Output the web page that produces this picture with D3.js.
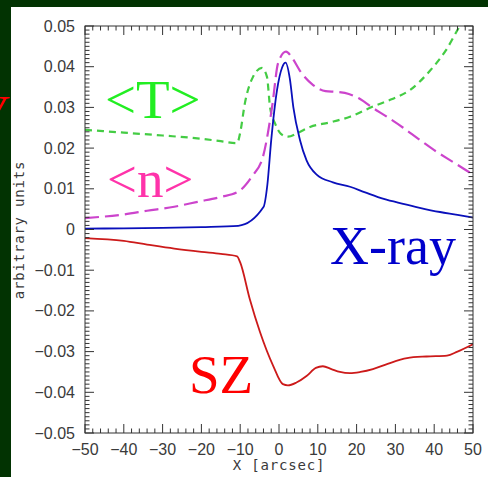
<!DOCTYPE html>
<html><head><meta charset="utf-8">
<script src="https://cdn.jsdelivr.net/npm/d3@7"></script>
<style>html,body{margin:0;padding:0;background:#023302;}svg{display:block;}</style>
</head><body>
<svg id="c" width="488" height="477"></svg>
<script>
// ---- data ----
const xTicks = [-50,-40,-30,-20,-10,0,10,20,30,40,50];
const yTicks = [-0.05,-0.04,-0.03,-0.02,-0.01,0,0.01,0.02,0.03,0.04,0.05];
const xrayX = [-50,-40,-30,-20,-10.5,-4,-3,-2,-0.5,0.8,1.7,2.8,3.7,5.4,7.1,9.7,13.9,18.3,22,27,32,36,41.5,46,50];
const xrayY = [0.0002,0.0003,0.0004,0.0006,0.0009,0.0055,0.011,0.022,0.0343,0.0398,0.041,0.037,0.030,0.022,0.017,0.0135,0.0116,0.0105,0.0092,0.0075,0.0063,0.0054,0.0043,0.0036,0.0029];
const denX = [-50,-40,-34,-27,-21,-15,-10.5,-7,-4.1,-1.8,-0.2,1.8,3.5,5.4,8.8,12,15,18,21,24,27.8,32,36,40,45,50];
const denY = [0.0028,0.0037,0.0046,0.0056,0.0068,0.0080,0.0093,0.013,0.018,0.030,0.041,0.0437,0.042,0.039,0.0355,0.034,0.0338,0.0333,0.032,0.030,0.0277,0.025,0.0222,0.0195,0.0165,0.0135];
const tempX = [-50,-40,-30,-20,-15,-10.8,-10,-8.8,-6.7,-4.4,-3.1,-2.3,-1,0.5,2.3,5,8,13,18.3,24.2,29,33.8,38.9,43,46.6,50];
const tempY = [0.0245,0.0238,0.0231,0.0223,0.0217,0.0212,0.0238,0.031,0.0375,0.0397,0.0375,0.030,0.026,0.0235,0.0228,0.0238,0.0252,0.0263,0.0277,0.0302,0.032,0.0343,0.039,0.044,0.050,0.055];
const szX = [-50,-40,-34,-27,-20,-15,-10.8,-10,-7.5,-4.9,-1.5,1,2.3,4.5,7.1,9.5,11.3,13.5,15.7,18.3,21,24.2,28,33,38,43.3,46,50];
const szY = [-0.0021,-0.0028,-0.0037,-0.0047,-0.0055,-0.006,-0.0066,-0.0081,-0.0172,-0.0252,-0.0335,-0.038,-0.0383,-0.0376,-0.036,-0.034,-0.0336,-0.0343,-0.035,-0.0353,-0.035,-0.0343,-0.033,-0.0316,-0.0312,-0.031,-0.030,-0.0282];
const labels = ["<T>", "<n>", "X-ray", "SZ"];

// ---- layout ----
const svg = d3.select("#c");
const L = 85, R = 473, T = 26, B = 433;
svg.append("rect").attr("x",0).attr("y",0).attr("width",488).attr("height",477).attr("fill","#023302");
svg.append("rect").attr("x",11).attr("y",7).attr("width",477).attr("height",470).attr("fill","#ffffff");
// partially visible red letter on the left edge (cut off in the reference too)
svg.append("text").attr("x",5).attr("y",130).attr("text-anchor","end")
  .attr("font-family","Liberation Serif").attr("font-style","italic").attr("font-size",50)
  .attr("fill","#ff0000").text("V");

const x = d3.scaleLinear().domain([-50,50]).range([L,R]);
const y = d3.scaleLinear().domain([-0.05,0.05]).range([B,T]);

svg.append("defs").append("clipPath").attr("id","clip")
  .append("rect").attr("x",L).attr("y",T).attr("width",R-L).attr("height",B-T);

const g = svg.append("g").attr("clip-path","url(#clip)");
const line = d3.line().x(d=>x(d[0])).y(d=>y(d[1])).curve(d3.curveMonotoneX);
function series(xs, ys){ return xs.map((v,i)=>[v, ys[i]]); }

g.append("path").datum(series(tempX,tempY)).attr("d",line).attr("fill","none")
  .attr("stroke","#44cc44").attr("stroke-width",2.2).attr("stroke-dasharray","7,5");
g.append("path").datum(series(denX,denY)).attr("d",line).attr("fill","none")
  .attr("stroke","#cc44cc").attr("stroke-width",2.2).attr("stroke-dasharray","14,6");
g.append("path").datum(series(szX,szY)).attr("d",line).attr("fill","none")
  .attr("stroke","#cc1a1a").attr("stroke-width",1.8);
g.append("path").datum(series(xrayX,xrayY)).attr("d",line).attr("fill","none")
  .attr("stroke","#0a10bb").attr("stroke-width",1.8);

// ---- axes: frame with inward ticks on all sides ----
const ax = svg.append("g").attr("stroke","#333").attr("stroke-width",1);
ax.append("rect").attr("x",L).attr("y",T).attr("width",R-L).attr("height",B-T).attr("fill","none");
const xMinor = d3.range(-50,50.001,2);
const yMinor = d3.range(-50,50.001,1).map(v=>v/1000);
const MJ = 9, MN = 4.5;
xMinor.forEach(v=>{
  const major = Math.abs(v%10) < 1e-9;
  const len = major?MJ:MN, px = x(v);
  ax.append("line").attr("x1",px).attr("x2",px).attr("y1",B).attr("y2",B-len);
  ax.append("line").attr("x1",px).attr("x2",px).attr("y1",T).attr("y2",T+len);
});
yMinor.forEach(v=>{
  const major = Math.abs(Math.round(v*1000)%10) === 0;
  const len = major?MJ:MN, py = y(v);
  ax.append("line").attr("x1",L).attr("x2",L+len).attr("y1",py).attr("y2",py);
  ax.append("line").attr("x1",R).attr("x2",R-len).attr("y1",py).attr("y2",py);
});

const fmtY = v => { if (Math.abs(v) < 1e-9) return "0"; const s = Math.abs(v).toFixed(2); return (v<0?"\u2212":"") + s; };
const fmtX = v => (v<0?"\u2212":"") + Math.abs(v);
const tf = "Liberation Sans";
svg.append("g").selectAll("text").data(yTicks).join("text")
  .attr("x",L-10).attr("y",d=>y(d)+5.5).attr("text-anchor","end")
  .attr("font-family",tf).attr("font-size",16).attr("fill","#3a3a3a").text(fmtY);
svg.append("g").selectAll("text").data(xTicks).join("text")
  .attr("x",d=>x(d)).attr("y",455).attr("text-anchor","middle")
  .attr("font-family",tf).attr("font-size",16).attr("fill","#3a3a3a").text(fmtX);

svg.append("text").attr("transform","translate(24,230) rotate(-90)").attr("text-anchor","middle")
  .attr("font-family","DejaVu Sans Mono").attr("font-size",14).attr("letter-spacing",0.8)
  .attr("fill","#3a3a3a").text("arbitrary units");
svg.append("text").attr("x",279).attr("y",470).attr("text-anchor","middle")
  .attr("font-family","DejaVu Sans Mono").attr("font-size",14).attr("letter-spacing",0.8)
  .attr("fill","#3a3a3a").text("X [arcsec]");

// ---- in-plot labels ----
const lf = "Liberation Serif";
svg.append("text").attr("x",105).attr("y",118).attr("font-family",lf).attr("font-size",55).attr("fill","#22ee22").text(labels[0]);
svg.append("text").attr("x",107).attr("y",197).attr("font-family",lf).attr("font-size",53).attr("fill","#ff33aa").text(labels[1]);
svg.append("text").attr("x",330).attr("y",264).attr("font-family",lf).attr("font-size",54).attr("fill","#0000cc").text(labels[2]);
svg.append("text").attr("x",189).attr("y",393).attr("font-family",lf).attr("font-size",55).attr("fill","#ff0000").text(labels[3]);
</script>
</body></html>
